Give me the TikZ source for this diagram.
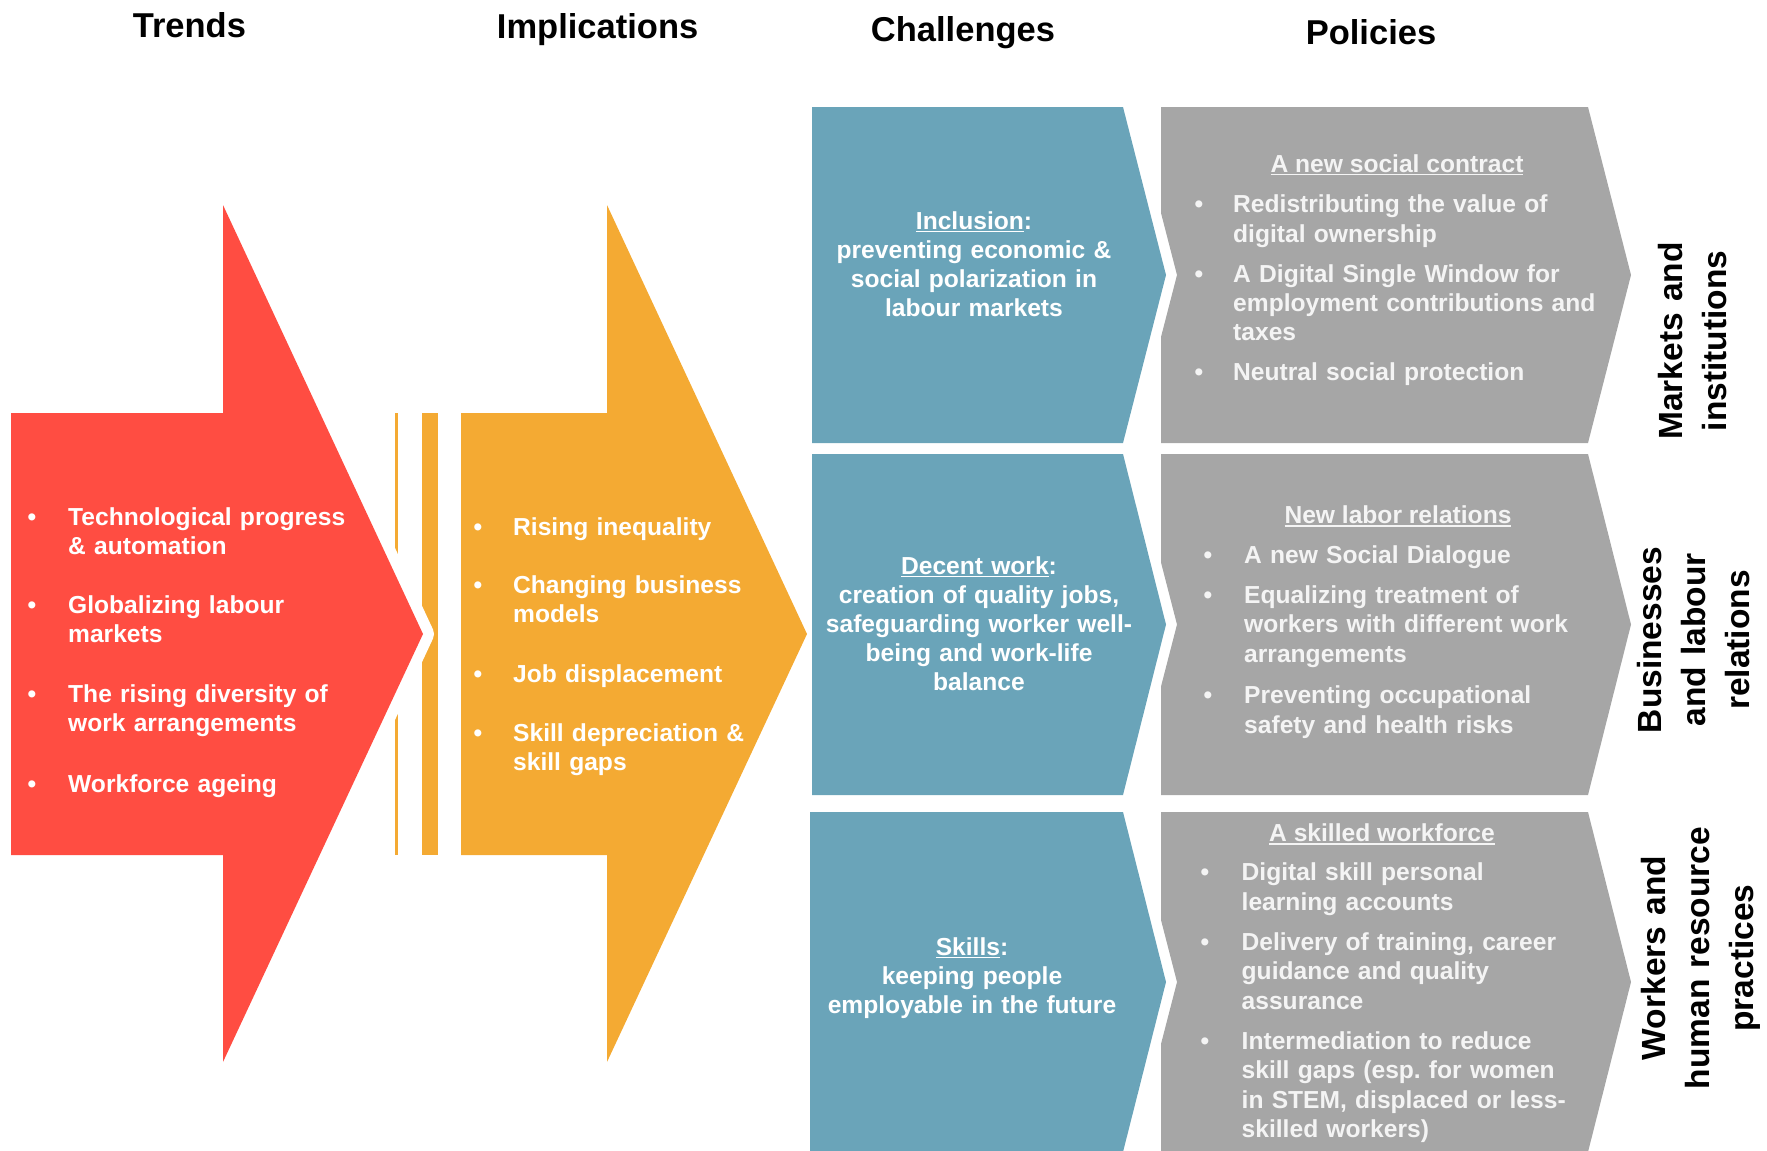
\documentclass[tikz,border=0pt]{standalone}
\usepackage{fontspec}
\setmainfont{Liberation Sans}
\definecolor{redC}{HTML}{FF4D42}
\definecolor{orangeC}{HTML}{F4AA33}
\definecolor{tealC}{HTML}{6AA4B9}
\definecolor{grayC}{HTML}{A6A6A6}
\definecolor{grayT}{HTML}{F4F4F4}
\newcommand\ulx[1]{\setbox0\hbox{#1}\rlap{\rule[-3.4pt]{\wd0}{1.8pt}}\box0}
\frenchspacing
\tikzset{
  body/.style={inner sep=0pt, text=white, font=\bfseries\fontsize{24.6}{29.3}\selectfont},
  bul/.style={body, anchor=base},
  btxt/.style={body, anchor=base west, text width=#1, align=left},
  btxt/.default=330,
  ctxt/.style={body, anchor=base, text width=340, align=center, font=\bfseries\fontsize{24.6}{29}\selectfont},
  gbul/.style={bul, text=grayT},
  gtxt/.style={btxt=400, text=grayT},
  ghead/.style={body, anchor=base, text=grayT},
  head/.style={inner sep=0pt, anchor=base, text=black, font=\bfseries\fontsize{34.5}{40}\selectfont},
  side/.style={inner sep=0pt, anchor=base, rotate=90, text=black, text width=320, align=center, font=\bfseries\fontsize{33.5}{44}\selectfont},
}
\begin{document}
\begin{tikzpicture}[x=1pt,y=-1pt]
\useasboundingbox (0,0) rectangle (1767,1151);

% headings
\node[head] (hT) at (189.4,37) {Trends};
\node[head] (hI) at (597.6,38) {Implications};
\node[head] (hC) at (963,41) {Challenges};
\node[head] (hP) at (1371,44) {Policies};

% orange arrow with stripes
\fill[orangeC] (395,413) rectangle (397.8,855);
\fill[orangeC] (422,413) rectangle (437.5,855);
\fill[orangeC] (461,413) -- (607,413) -- (607,205) -- (807,634) -- (607,1062) -- (607,855) -- (461,855) -- cycle;

% red arrow with white outline
\draw[white, line width=22pt, line join=round] (11,413) -- (223,413) -- (223,205) -- (423,634) -- (223,1062) -- (223,855) -- (11,855) -- cycle;
\fill[redC] (11,413) -- (223,413) -- (223,205) -- (423,634) -- (223,1062) -- (223,855) -- (11,855) -- cycle;

% teal chevrons
\fill[tealC] (812,107) -- (1123,107) -- (1166,275) -- (1123,443) -- (812,443) -- cycle;
\fill[tealC] (812,454) -- (1123,454) -- (1166,624.5) -- (1123,795) -- (812,795) -- cycle;
\fill[tealC] (810,812) -- (1123,812) -- (1166,982) -- (1123,1152) -- (810,1152) -- cycle;

% gray chevrons
\fill[grayC] (1161,107) -- (1588,107) -- (1631,275) -- (1588,443) -- (1161,443) -- (1161,337) -- (1177,275) -- (1161,213) -- cycle;
\fill[grayC] (1161,454) -- (1588,454) -- (1631,624.5) -- (1588,795) -- (1161,795) -- (1161,686.5) -- (1177,624.5) -- (1161,562.5) -- cycle;
\fill[grayC] (1161,812) -- (1588,812) -- (1631,982) -- (1588,1152) -- (1161,1152) -- (1161,1044) -- (1177,982) -- (1161,920) -- cycle;

% trends
\node[bul] (rb1) at (32,525) {•};
\node[btxt] (rt1) at (68,525) {Technological progress\\\& automation};
\node[bul] (rb2) at (32,613) {•};
\node[btxt] (rt2) at (68,613) {Globalizing labour\\markets};
\node[bul] (rb3) at (32,702) {•};
\node[btxt] (rt3) at (68,702) {The rising diversity of\\work arrangements};
\node[bul] (rb4) at (32,792) {•};
\node[btxt] (rt4) at (68,792) {Workforce ageing};

% implications
\node[bul] (ob1) at (478,535) {•};
\node[btxt=280] (ot1) at (513,535) {Rising inequality};
\node[bul] (ob2) at (478,593) {•};
\node[btxt=280] (ot2) at (513,593) {Changing business\\models};
\node[bul] (ob3) at (478,682) {•};
\node[btxt=280] (ot3) at (513,682) {Job displacement};
\node[bul] (ob4) at (478,741) {•};
\node[btxt=280] (ot4) at (513,741) {Skill depreciation \&\\skill gaps};

% challenges
\node[ctxt] (c1) at (974,229) {\ulx{Inclusion}:\\preventing economic \&\\social polarization in\\labour markets};
\node[ctxt] (c2) at (979,574) {\ulx{Decent work}:\\creation of quality jobs,\\safeguarding worker well-\\being and work-life\\balance};
\node[ctxt] (c3) at (972,955) {\ulx{Skills}:\\keeping people\\employable in the future};

% policies row 1
\node[ghead] (p1h) at (1397,172) {\ulx{A new social contract}};
\node[gbul] (p1b1) at (1199,212.7) {•};
\node[gtxt] (p1t1) at (1233,212.7) {Redistributing the value of\\digital ownership};
\node[gbul] (p1b2) at (1199,282) {•};
\node[gtxt] (p1t2) at (1233,282) {A Digital Single Window for\\employment contributions and\\taxes};
\node[gbul] (p1b3) at (1199,380) {•};
\node[gtxt] (p1t3) at (1233,380) {Neutral social protection};

% policies row 2
\node[ghead] (p2h) at (1398,523.3) {\ulx{New labor relations}};
\node[gbul] (p2b1) at (1208,563) {•};
\node[gtxt] (p2t1) at (1244,563) {A new Social Dialogue};
\node[gbul] (p2b2) at (1208,603.4) {•};
\node[gtxt] (p2t2) at (1244,603.4) {Equalizing treatment of\\workers with different work\\arrangements};
\node[gbul] (p2b3) at (1208,703.7) {•};
\node[gtxt] (p2t3) at (1244,703.7) {Preventing occupational\\safety and health risks};

% policies row 3
\node[ghead] (p3h) at (1382,841.5) {\ulx{A skilled workforce}};
\node[gbul] (p3b1) at (1205,880.8) {•};
\node[gtxt] (p3t1) at (1241.5,880.8) {Digital skill personal\\learning accounts};
\node[gbul] (p3b2) at (1205,950.5) {•};
\node[gtxt] (p3t2) at (1241.5,950.5) {Delivery of training, career\\guidance and quality\\assurance};
\node[gbul] (p3b3) at (1205,1049.5) {•};
\node[gtxt] (p3t3) at (1241.5,1049.5) {Intermediation to reduce\\skill gaps (esp.\ for women\\in STEM, displaced or less-\\skilled workers)};

% side labels
\node[side] (sM) at (1682,341) {Markets and\\institutions};
\node[side] (sB) at (1661,640) {Businesses\\and labour\\relations};
\node[side] (sW) at (1665,958) {Workers and\\human resource\\practices};
\end{tikzpicture}
\end{document}
